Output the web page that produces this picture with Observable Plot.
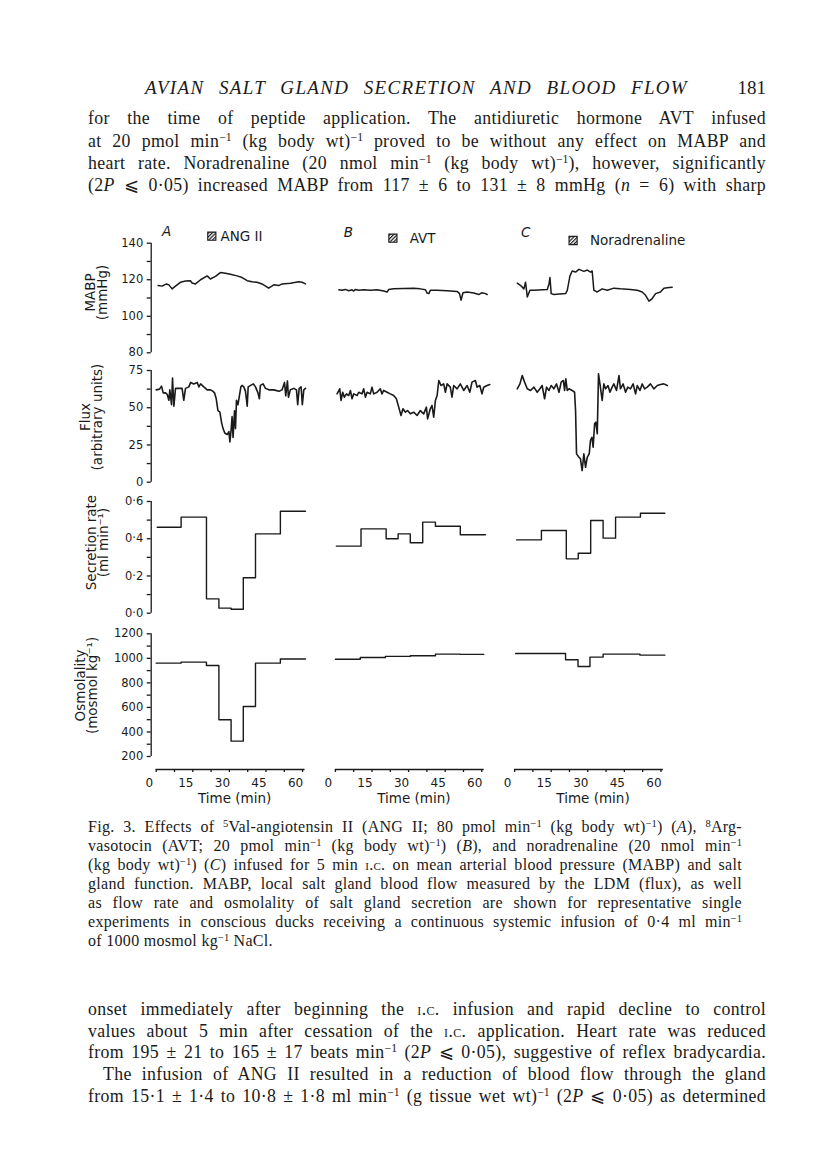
<!DOCTYPE html>
<html><head><meta charset="utf-8">
<script src="https://cdn.jsdelivr.net/npm/d3@7"></script>
<script src="https://cdn.jsdelivr.net/npm/@observablehq/plot@0.6"></script>
<style>
html,body{margin:0;padding:0;background:#fff;}
#page{position:relative;width:816px;height:1166px;overflow:hidden;background:#fff;color:#1a1a1a;}
.tl{position:absolute;left:88px;width:678px;font-family:"Liberation Serif",serif;font-size:17.8px;letter-spacing:0.35px;line-height:22px;height:22px;white-space:nowrap;text-align:justify;text-align-last:justify;}
.cap{left:88px;width:654px;font-size:16px;letter-spacing:0.3px;line-height:19px;height:19px;}
.last{text-align-last:left;}
.hdr{position:absolute;font-family:"Liberation Serif",serif;font-size:19px;line-height:22px;white-space:nowrap;}
sup{font-size:0.66em;line-height:0;vertical-align:0.5em;letter-spacing:0;}
.sc{font-variant:small-caps;}
svg{position:absolute;left:0;}
</style></head>
<body><div id="page">
<div class="hdr" style="left:145px;top:77px;width:543px;font-style:italic;letter-spacing:1.3px;text-align:justify;text-align-last:justify;">AVIAN SALT GLAND SECRETION AND BLOOD FLOW</div>
<div class="hdr" style="left:736px;top:77px;width:30px;text-align:right;">181</div>
<div class="tl" style="top:107px">for the time of peptide application. The antidiuretic hormone AVT infused</div>
<div class="tl" style="top:130px">at 20 pmol min<sup>−1</sup> (kg body wt)<sup>−1</sup> proved to be without any effect on MABP and</div>
<div class="tl" style="top:152px">heart rate. Noradrenaline (20 nmol min<sup>−1</sup> (kg body wt)<sup>−1</sup>), however, significantly</div>
<div class="tl" style="top:174px">(2<i>P</i> ⩽ 0·05) increased MABP from 117 ± 6 to 131 ± 8 mmHg (<i>n</i> = 6) with sharp</div>

<div class="tl cap" style="top:817px">Fig. 3. Effects of <sup>5</sup>Val-angiotensin II (ANG II; 80 pmol min<sup>−1</sup> (kg body wt)<sup>−1</sup>) (<i>A</i>), <sup>8</sup>Arg-</div>
<div class="tl cap" style="top:836px">vasotocin (AVT; 20 pmol min<sup>−1</sup> (kg body wt)<sup>−1</sup>) (<i>B</i>), and noradrenaline (20 nmol min<sup>−1</sup></div>
<div class="tl cap" style="top:855px">(kg body wt)<sup>−1</sup>) (<i>C</i>) infused for 5 min <span class="sc">i.c.</span> on mean arterial blood pressure (MABP) and salt</div>
<div class="tl cap" style="top:874px">gland function. MABP, local salt gland blood flow measured by the LDM (flux), as well</div>
<div class="tl cap" style="top:893px">as flow rate and osmolality of salt gland secretion are shown for representative single</div>
<div class="tl cap" style="top:912px">experiments in conscious ducks receiving a continuous systemic infusion of 0·4 ml min<sup>−1</sup></div>
<div class="tl cap last" style="top:931px">of 1000 mosmol kg<sup>−1</sup> NaCl.</div>

<div class="tl" style="top:998px">onset immediately after beginning the <span class="sc">i.c.</span> infusion and rapid decline to control</div>
<div class="tl" style="top:1020px">values about 5 min after cessation of the <span class="sc">i.c.</span> application. Heart rate was reduced</div>
<div class="tl" style="top:1041px">from 195 ± 21 to 165 ± 17 beats min<sup>−1</sup> (2<i>P</i> ⩽ 0·05), suggestive of reflex bradycardia.</div>
<div class="tl" style="top:1063px;left:103px;width:663px;">The infusion of ANG II resulted in a reduction of blood flow through the gland</div>
<div class="tl" style="top:1085px">from 15·1 ± 1·4 to 10·8 ± 1·8 ml min<sup>−1</sup> (g tissue wet wt)<sup>−1</sup> (2<i>P</i> ⩽ 0·05) as determined</div>
</div>
<script>
// ---------- data (time in min, value) ----------
const cols = ["A", "B", "C"];
const drugs = ["ANG II", "AVT", "Noradrenaline"];

const mabpA = [[0.8,116.8],[2.4,116.5],[4.2,117.7],[5.2,117.2],[6.5,115.0],[7.9,116.5],[9.9,118.6],[12.0,119.3],[14.0,119.5],[14.7,118.2],[16.1,117.7],[18.2,120.0],[20.9,122.1],[22.2,120.4],[24.3,121.8],[26.3,123.9],[28.4,123.5],[30.4,123.0],[33.2,122.1],[35.2,121.2],[37.3,119.5],[39.3,118.9],[41.3,118.6],[43.4,117.7],[46.1,115.4],[48.2,117.2],[50.2,116.8],[51.6,117.7],[55.0,118.1],[58.4,118.9],[59.8,118.6],[61.2,117.7]];
const mabpB = [[1.4,114.5],[2.7,114.2],[4.1,114.7],[5.5,114.0],[6.8,114.5],[7.5,113.8],[8.2,114.7],[9.6,114.2],[11.6,114.5],[14.3,114.3],[17.1,114.5],[19.8,113.8],[21.2,113.3],[21.9,114.7],[23.9,115.0],[28.0,115.2],[32.1,115.4],[34.8,115.0],[36.9,114.5],[37.6,112.7],[38.3,112.4],[38.9,114.2],[41.7,114.2],[45.8,114.0],[49.9,113.6],[50.9,112.4],[51.5,108.8],[52.3,112.9],[54.0,113.3],[56.7,112.7],[58.8,111.9],[60.1,112.9],[61.5,112.4],[62.2,111.9]];
const mabpC = [[1.1,118.1],[2.5,116.8],[3.8,115.0],[4.5,118.6],[5.2,110.6],[6.3,114.2],[7.9,114.2],[13.4,114.7],[14.1,117.7],[14.5,121.2],[15.0,112.4],[16.1,111.9],[20.9,112.4],[21.6,114.2],[22.7,122.1],[23.6,124.8],[25.0,124.2],[26.4,125.7],[28.4,124.6],[29.8,125.3],[31.1,124.2],[31.8,124.8],[32.5,114.2],[33.9,113.3],[35.9,115.0],[38.0,114.2],[40.7,115.4],[43.4,115.0],[47.5,114.7],[50.3,114.2],[52.3,113.3],[53.7,111.5],[55.1,108.3],[56.4,109.7],[57.8,112.4],[59.8,113.3],[61.2,115.4],[63.3,115.8],[64.6,115.9]];

const fluxA = [[0.0,62],[1.35,62.5],[2.17,64.5],[2.86,60],[3.81,60],[4.5,59],[5.18,55],[5.59,62],[6.27,52],[6.68,70],[7.23,51],[7.91,63],[9.28,63],[10.6,63],[11.3,55],[12.0,63],[13.4,64],[14.1,67],[15.4,66],[16.8,67],[17.5,64],[18.2,66],[19.5,64],[20.9,62],[22.3,62],[23.3,61],[23.9,60],[24.6,56],[25.3,48],[26.1,47],[26.8,40],[27.4,36],[28.1,33],[29.1,32],[29.8,34],[30.2,27],[30.7,35],[31.1,44],[31.5,30],[32.1,48],[32.5,36],[32.9,55],[33.5,52],[34.1,58],[34.7,64],[35.2,65],[35.9,64],[36.6,61],[37.3,51],[37.7,64],[38.7,65],[39.8,66],[40.7,64],[41.7,60],[42.3,56],[42.7,65],[43.8,66],[44.8,63],[46.2,62],[48.2,62],[50.3,61],[51.6,62],[52.6,67],[53.1,58],[53.8,68],[54.2,57],[55.0,62],[56.4,63],[57.5,62],[58.0,52],[58.6,63],[59.4,64],[59.9,52],[60.5,62],[61.2,63]];
const fluxB = [[0.68,59.3],[1.78,62.7],[2.32,54.9],[3.0,60.4],[3.69,57.1],[4.51,59.3],[5.46,58.2],[6.15,61.6],[6.83,56.0],[7.51,59.3],[8.88,58.2],[9.56,60.4],[10.9,59.3],[11.6,62.7],[12.3,57.1],[13.0,60.4],[14.3,59.3],[15.0,63.8],[15.7,59.3],[17.1,60.4],[18.4,62.7],[19.1,59.3],[19.8,61.6],[21.2,60.4],[22.5,59.3],[23.9,58.2],[25.0,56.0],[25.96,50.4],[26.9,44.8],[27.7,49.3],[28.7,47.0],[29.6,48.1],[30.7,45.9],[32.1,47.0],[33.5,44.8],[34.8,48.1],[36.2,45.9],[37.3,50.4],[37.8,42.5],[38.9,49.3],[39.6,51.5],[40.3,43.7],[41.0,54.9],[41.7,58.2],[42.4,68.3],[43.3,64.9],[44.4,66.0],[45.1,60.4],[45.8,66.0],[47.1,63.8],[47.8,57.1],[48.5,64.9],[49.9,62.7],[51.2,66.0],[52.6,61.6],[54.0,64.9],[55.1,60.4],[56.0,67.2],[57.4,68.3],[58.1,63.8],[59.2,64.9],[60.1,59.3],[60.8,63.8],[62.2,64.9],[63.3,65.6]];
const fluxC = [[1.09,62.7],[2.19,66.0],[3.14,71.6],[4.1,67.2],[5.19,62.7],[6.56,61.6],[7.92,63.8],[9.29,60.4],[10.4,62.7],[11.3,64.9],[12.3,56.0],[13.1,63.8],[14.1,61.6],[15.0,64.9],[16.1,62.7],[17.2,66.0],[18.2,60.4],[19.1,67.2],[20.0,68.3],[20.5,61.6],[21.0,69.4],[21.6,61.6],[22.3,62.7],[23.6,61.6],[24.6,60.4],[25.0,48.1],[25.4,19.0],[26.4,16.8],[27.0,15.7],[27.7,7.8],[28.4,19.0],[29.1,10.0],[29.8,16.8],[30.6,19.0],[31.1,28.0],[31.7,30.2],[32.2,23.5],[32.8,39.2],[33.3,40.3],[33.9,32.5],[34.4,72.8],[35.0,66.0],[35.9,54.9],[36.6,66.0],[37.3,62.7],[38.3,64.9],[39.1,60.4],[40.0,63.8],[40.7,66.0],[41.8,61.6],[42.8,71.6],[43.4,62.7],[44.5,66.0],[45.5,60.4],[46.4,63.8],[47.5,62.7],[48.6,66.0],[49.6,59.3],[50.3,64.9],[51.4,61.6],[52.3,66.0],[53.3,62.7],[54.4,63.8],[55.7,66.0],[57.1,62.7],[58.5,64.9],[59.8,65.6],[61.2,66.0],[62.6,64.9]];

// collection periods (start times, last = end) and values
const secA_t = [0.4, 10.2, 20.6, 25.7, 30.7, 35.7, 40.7, 50.9, 61.2];
const secA_v = [0.462, 0.516, 0.077, 0.027, 0.021, 0.19, 0.426, 0.548];
const secB_t = [0.4, 10.5, 20.8, 25.7, 30.7, 35.8, 41.0, 51.2, 61.5];
const secB_v = [0.36, 0.453, 0.40, 0.426, 0.378, 0.489, 0.467, 0.421];
const secC_t = [0.8, 11.0, 21.2, 26.1, 31.2, 36.3, 41.4, 51.6, 61.6];
const secC_v = [0.394, 0.444, 0.292, 0.322, 0.498, 0.403, 0.516, 0.537];

const osmA_t = [0, 10.2, 20.6, 25.7, 30.7, 35.7, 40.7, 50.9, 61.2];
const osmA_v = [961, 969, 942, 499, 325, 608, 961, 995];
const osmB_t = [0, 10.2, 20.5, 30.7, 41.0, 51.2, 60.8];
const osmB_v = [993, 1007, 1016, 1021, 1034, 1032];
const osmC_t = [0.4, 20.9, 26.0, 30.9, 36.3, 51.4, 61.6];
const osmC_v = [1040, 988, 934, 1010, 1034, 1026];

// axis ticks
const mabpTicks = [80, 100, 120, 140], mabpMinor = [90, 110, 130];
const fluxTicks = [0, 25, 50, 75], fluxMinor = [12.5, 37.5, 62.5];
const secTicks = [0, 0.2, 0.4, 0.6], secMinor = [0.1, 0.3, 0.5];
const osmTicks = [200, 400, 600, 800, 1000, 1200], osmMinor = [300, 500, 700, 900, 1100];
const timeTicks = [0, 15, 30, 45, 60];
const timeMinor = [0, 7.5, 15, 22.5, 30, 37.5, 45, 52.5, 60];

// ---------- helpers ----------
const pairs = (col, arr) => arr.map(([t, v]) => ({col, t, v}));
const steps = (col, ts, vs) => vs.map((v, i) => ({col, t: ts[i], v})).concat([{col, t: ts[ts.length - 1], v: vs[vs.length - 1]}]);
const panels = cols.map((col, i) => ({col, letter: col, drug: drugs[i]}));
const dot = (s) => s.toString().replace(".", "·");

const page = document.getElementById("page");
const INK = "#1a1a1a";
const W = 816, ML = 155.7, MR = W - 662.9;
const fxScale = {domain: cols, paddingInner: 0.1696, paddingOuter: 0, axis: null, round: false};
const xDomain = [0, 61];
const SANS = "'DejaVu Sans', sans-serif";

function row({top, frameTop, frameBottom, marginBottom, yDomain, insetBottom = 0, major, minor, fmt, label, labelDx, labelDy, marks, xAxis = false}) {
  const svg = Plot.plot({
    width: W,
    height: frameBottom - top + marginBottom,
    marginLeft: ML, marginRight: MR,
    marginTop: frameTop - top, marginBottom,
    fx: fxScale,
    x: xAxis ? {domain: xDomain} : {domain: xDomain, axis: null},
    y: {domain: yDomain, insetBottom},
    style: {fontFamily: SANS, fontSize: "11.5px", color: INK, background: "transparent", overflow: "visible"},
    marks: [
      Plot.axisY({ticks: major, tickFormat: fmt, tickSize: 4, tickPadding: 4, dx: -5, label: null, fontSize: 11.5, strokeWidth: 1.3}),
      Plot.axisY({ticks: minor, tickFormat: () => "", tickSize: 4, dx: -5, label: null, strokeWidth: 1.3}),
      Plot.ruleX([{col: "A"}], {x: 0, fx: "col", y1: major[0], y2: major[major.length - 1], dx: -5, stroke: INK, strokeWidth: 1.3}),
      Plot.text([{col: "A", label}], {fx: "col", text: "label", frameAnchor: "left", textAnchor: "middle", lineAnchor: "middle", rotate: -90, dx: labelDx, dy: labelDy, fontSize: 13.5, lineHeight: 0.88, fill: INK}),
      ...marks
    ]
  });
  svg.style.top = top + "px";
  page.appendChild(svg);
  return svg;
}

const traceStyle = {x: "t", y: "v", fx: "col", z: "col", stroke: INK, strokeWidth: 1.5, strokeLinejoin: "round"};

// Row 1: MABP with panel letters and infusion legends
const letterOff = {A: [10.3, -12], B: [13, -11], C: [11, -11]};
const boxOff = {A: [55.6, -7], B: [57.5, -5], C: [58.5, -2.7]};
const drugOff = {A: [64.3, -7], B: [74.3, -5], C: [75.3, -2.7]};
const annot = [];
for (const p of panels) {
  annot.push(Plot.text([p], {fx: "col", text: "letter", frameAnchor: "top-left", textAnchor: "middle", lineAnchor: "middle", dx: letterOff[p.col][0], dy: letterOff[p.col][1], fontSize: 13.5, fontStyle: "italic", fill: INK}));
  annot.push(Plot.dot([p], {fx: "col", frameAnchor: "top-left", dx: boxOff[p.col][0], dy: boxOff[p.col][1], symbol: "square", r: 4.6, fill: "url(#hatch)", stroke: INK, strokeWidth: 1.1}));
  annot.push(Plot.text([p], {fx: "col", text: "drug", frameAnchor: "top-left", textAnchor: "start", lineAnchor: "middle", dx: drugOff[p.col][0], dy: drugOff[p.col][1], fontSize: 13.5, fill: INK}));
}
const mabpData = [...pairs("A", mabpA), ...pairs("B", mabpB), ...pairs("C", mabpC)];
const r1 = row({top: 220, frameTop: 242.7, frameBottom: 352.3, marginBottom: 4, yDomain: [80, 140],
  major: mabpTicks, minor: mabpMinor, fmt: d => String(d), label: "MABP\n(mmHg)", labelDx: -58.7, labelDy: -5.5,
  marks: [Plot.line(mabpData, traceStyle), ...annot]});
const defs = d3.select(r1).insert("defs", ":first-child");
const pat = defs.append("pattern").attr("id", "hatch").attr("patternUnits", "userSpaceOnUse")
  .attr("width", 2.6).attr("height", 2.6).attr("patternTransform", "rotate(45)");
pat.append("rect").attr("width", 2.6).attr("height", 2.6).attr("fill", "#fff");
pat.append("line").attr("x1", 0.6).attr("y1", 0).attr("x2", 0.6).attr("y2", 2.6).attr("stroke", INK).attr("stroke-width", 1.2);

// Row 2: Flux
const fluxData = [...pairs("A", fluxA), ...pairs("B", fluxB), ...pairs("C", fluxC)];
row({top: 360, frameTop: 370, frameBottom: 481.7, marginBottom: 4, yDomain: [0, 75],
  major: fluxTicks, minor: fluxMinor, fmt: d => String(d), label: "Flux\n(arbitrary units)", labelDx: -63.9, labelDy: -9.3,
  marks: [Plot.line(fluxData, {...traceStyle, strokeWidth: 1.6})]});

// Row 3: Secretion rate
const secData = [...steps("A", secA_t, secA_v), ...steps("B", secB_t, secB_v), ...steps("C", secC_t, secC_v)];
row({top: 490, frameTop: 501, frameBottom: 612.7, marginBottom: 4, yDomain: [0, 0.6],
  major: secTicks, minor: secMinor, fmt: d => dot(d.toFixed(1)), label: "Secretion rate\n(ml min⁻¹)", labelDx: -58.4, labelDy: -14.8,
  marks: [Plot.line(secData, {...traceStyle, strokeWidth: 1.4, curve: "step-after"})]});

// Row 4: Osmolality + time axis
const osmData = [...steps("A", osmA_t, osmA_v), ...steps("B", osmB_t, osmB_v), ...steps("C", osmC_t, osmC_v)];
row({top: 622, frameTop: 633.3, frameBottom: 769, marginBottom: 40, yDomain: [200, 1200], insetBottom: 13,
  major: osmTicks, minor: osmMinor, fmt: d => String(d), label: "Osmolality\n(mosmol kg⁻¹)", labelDx: -69.2, labelDy: -16.2, xAxis: true,
  marks: [
    Plot.line(osmData, {...traceStyle, strokeWidth: 1.4, curve: "step-after"}),
    Plot.ruleY([osmTicks[0]], {dy: 13, stroke: INK, strokeWidth: 1.3}),
    Plot.axisX({ticks: timeMinor, tickFormat: () => "", tickSize: 3, label: null, strokeWidth: 1.3}),
    Plot.axisX({ticks: timeTicks, tickSize: 0, tickPadding: 9, dx: -7, label: null, fontSize: 12}),
    Plot.text(panels, {fx: "col", text: () => "Time (min)", frameAnchor: "bottom", dx: 4, dy: 33.7, fontSize: 13.5, fill: INK})
  ]});
</script>
</body></html>
